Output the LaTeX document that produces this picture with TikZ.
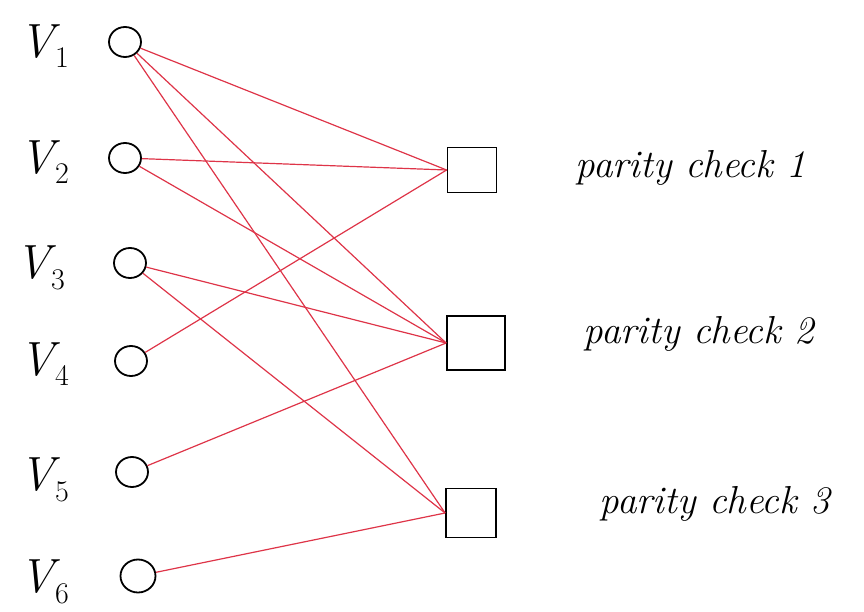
\documentclass[tikz,border=0pt]{standalone}
\usepackage{fontspec}
\usetikzlibrary{shapes.geometric}
% variable label: italic V with a lowered index, all in text fonts
\newcommand{\varlab}[1]{\itshape V\hspace{1pt}\raisebox{-0.22em}{\upshape\fontsize{30}{32}\selectfont #1}}
\begin{document}
\begin{tikzpicture}[x=1pt,y=-1pt,
  varnode/.style={draw=black,line width=1.8pt,ellipse,inner sep=0pt,minimum width=32pt,minimum height=30pt},
  chknode/.style={draw=black,line width=1.8pt,rectangle,inner sep=0pt},
  edge/.style={draw=linkred,line width=1.2pt},
  vlabel/.style={font=\fontsize{48}{52}\selectfont,anchor=center},
  clabel/.style={font=\itshape\fontsize{39}{44}\selectfont,anchor=west}]
\definecolor{linkred}{RGB}{222,52,72}
\useasboundingbox (0,0) rectangle (864,612);
% variable nodes
\node[varnode] (v1) at (125,42) {};
\node[varnode] (v2) at (125,158) {};
\node[varnode] (v3) at (130,263) {};
\node[varnode] (v4) at (131,361) {};
\node[varnode] (v5) at (132,472) {};
\node[varnode,minimum width=35pt,minimum height=33pt] (v6) at (138,576) {};
% labels of the variable nodes
\node[vlabel] (l1) at (44,46) {\varlab{1}};
\node[vlabel] (l2) at (44,162) {\varlab{2}};
\node[vlabel] (l3) at (40,268) {\varlab{3}};
\node[vlabel] (l4) at (44,364) {\varlab{4}};
\node[vlabel] (l5) at (44,480) {\varlab{5}};
\node[vlabel] (l6) at (44,582) {\varlab{6}};
% check nodes
\node[chknode,minimum width=49pt,minimum height=45pt] (c1) at (472,170) {};
\node[chknode,minimum width=58pt,minimum height=54pt] (c2) at (476,343) {};
\node[chknode,minimum width=50pt,minimum height=49pt] (c3) at (471,513) {};
% labels of the check nodes
\node[clabel] (t1) at (572,168) {parity check 1};
\node[clabel] (t2) at (580,334) {parity check 2};
\node[clabel] (t3) at (596,504) {parity check 3};
% edges
\draw[edge] (v1) -- (c1.west);
\draw[edge] (v1) -- (c2.west);
\draw[edge] (v1) -- (c3.west);
\draw[edge] (v2) -- (c1.west);
\draw[edge] (v2) -- (c2.west);
\draw[edge] (v3) -- (c2.west);
\draw[edge] (v3) -- (c3.west);
\draw[edge] (v4) -- (c1.west);
\draw[edge] (v5) -- (c2.west);
\draw[edge] (v6) -- (c3.west);
\end{tikzpicture}
\end{document}
